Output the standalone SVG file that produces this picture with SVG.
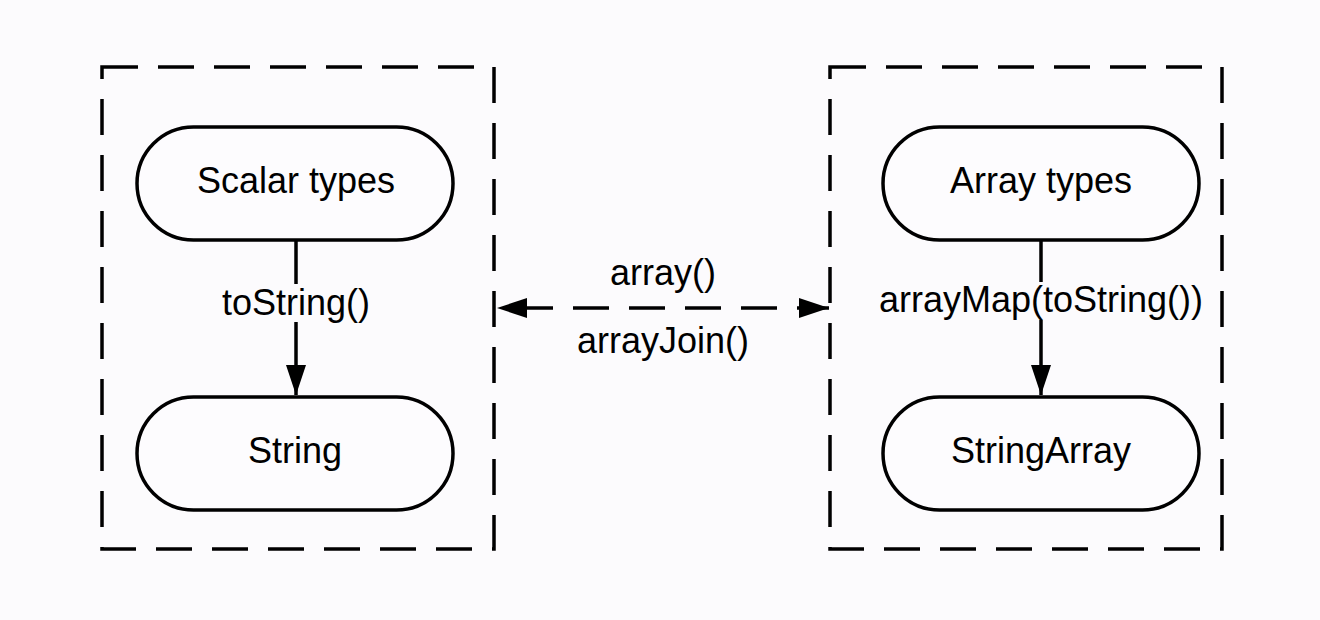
<svg xmlns="http://www.w3.org/2000/svg" width="1320" height="620" viewBox="0 0 1320 620">
<style>
.bg{fill:#fcfbfd}
.box{fill:none;stroke:#000;stroke-width:3.5;stroke-dasharray:36 20}
.node{fill:#fdfcfe;stroke:#000;stroke-width:3.5}
.t{font-family:"Liberation Sans",Arial,sans-serif;font-size:36px;fill:#000;text-anchor:middle}
.e{stroke:#000;stroke-width:3.5;fill:none}
.lblbg{fill:#fcfbfd}
</style>
<defs>
<marker id="ah2" viewBox="0 0 30 20" refX="30" refY="10" markerWidth="30" markerHeight="20" markerUnits="userSpaceOnUse" orient="auto-start-reverse">
<path d="M0,0 L30,10 L0,20 Z" fill="#000"/>
</marker>
</defs>
<rect class="bg" x="0" y="0" width="1320" height="620"/>
<g id="group-scalar"><rect class="box" x="102" y="67" width="392" height="482"/></g>
<g id="group-array"><rect class="box" x="830" y="67" width="392" height="482"/></g>
<g id="connectors">
<line class="e" x1="296" y1="240" x2="296" y2="395" marker-end="url(#ah2)"/>
<line class="e" x1="1041" y1="240" x2="1041" y2="395" marker-end="url(#ah2)"/>
<line class="e" x1="497" y1="308" x2="829" y2="308" stroke-dasharray="36 20" stroke-dashoffset="-20" marker-start="url(#ah2)" marker-end="url(#ah2)"/>
<rect class="lblbg" x="220" y="284" width="152" height="38"/>
<text class="t" x="296" y="315">toString()</text>
<rect class="lblbg" x="878" y="282" width="326" height="38"/>
<text class="t" x="1041" y="312">arrayMap(toString())</text>
<text class="t" x="663" y="285">array()</text>
<text class="t" x="663" y="353">arrayJoin()</text>
</g>
<g id="node-scalar"><rect class="node" x="137" y="127" width="316" height="113" rx="56.5"/><text class="t" x="296" y="193">Scalar types</text></g>
<g id="node-string"><rect class="node" x="137" y="397" width="316" height="113" rx="56.5"/><text class="t" x="295" y="463">String</text></g>
<g id="node-arraytypes"><rect class="node" x="883" y="127" width="316" height="113" rx="56.5"/><text class="t" x="1041" y="193">Array types</text></g>
<g id="node-stringarray"><rect class="node" x="883" y="397" width="316" height="113" rx="56.5"/><text class="t" x="1041" y="463">StringArray</text></g>
</svg>
